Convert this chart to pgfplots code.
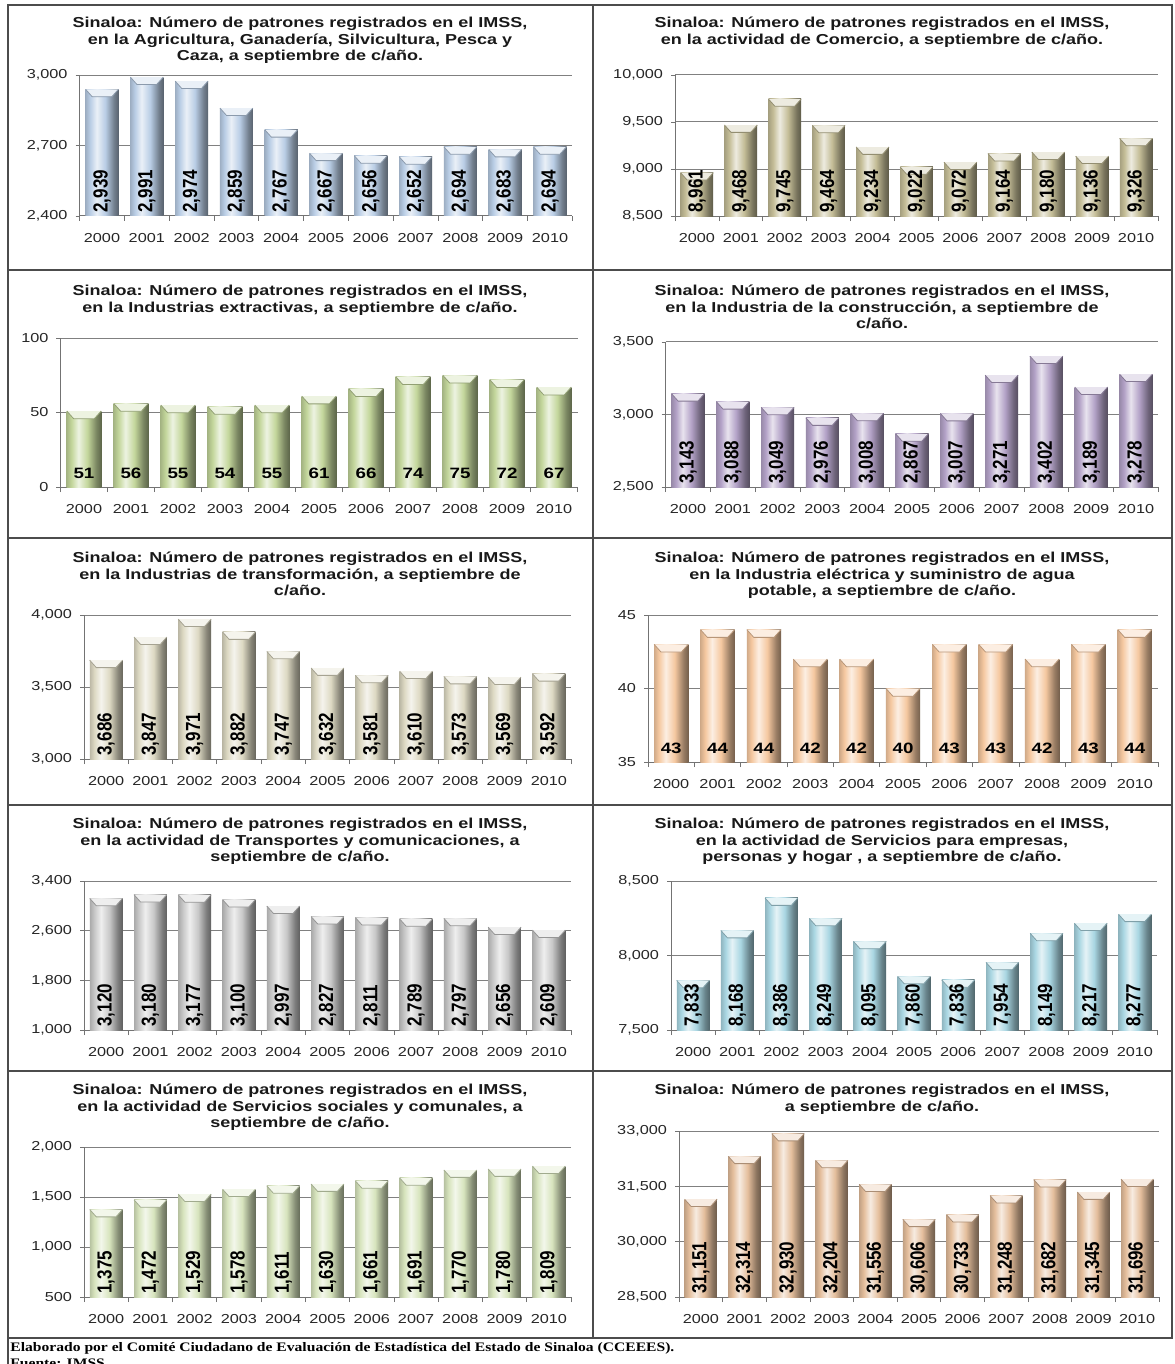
\documentclass[border=0pt]{standalone}
\usepackage{fontspec}
\setmainfont{Liberation Sans}
\newfontfamily\wide{Liberation Sans}[FakeStretch=1.25]
\newfontfamily\ftr{Liberation Serif}[FakeStretch=1.2]
\usepackage{pgfplots}
\usepackage{pgfplotstable}
\pgfplotsset{compat=1.18}
\pgfkeys{/pgf/number format/assume math mode=true}

\pgfplotstableread{
x agr com ext con tra ele trn sem soc tot
0 2939 8961 51 3143 3686 43 3120 7833 1375 31151
1 2991 9468 56 3088 3847 44 3180 8168 1472 32314
2 2974 9745 55 3049 3971 44 3177 8386 1529 32930
3 2859 9464 54 2976 3882 42 3100 8249 1578 32204
4 2767 9234 55 3008 3747 42 2997 8095 1611 31556
5 2667 9022 61 2867 3632 40 2827 7860 1630 30606
6 2656 9072 66 3007 3581 43 2811 7836 1661 30733
7 2652 9164 74 3271 3610 43 2789 7954 1691 31248
8 2694 9180 75 3402 3573 42 2797 8149 1770 31682
9 2683 9136 72 3189 3569 43 2656 8217 1780 31345
10 2694 9326 67 3278 3592 44 2609 8277 1809 31696
}\data

\definecolor{cAgr}{HTML}{B9CDE5}
\definecolor{cCom}{HTML}{C4BD97}
\definecolor{cExt}{HTML}{C3D69B}
\definecolor{cCon}{HTML}{B3A2C7}
\definecolor{cTra}{HTML}{DDD9C3}
\definecolor{cEle}{HTML}{F5C8A0}
\definecolor{cTrn}{HTML}{C8C8C8}
\definecolor{cSem}{HTML}{A9D6E2}
\definecolor{cSoc}{HTML}{D7E4BD}
\definecolor{cTot}{HTML}{E4BE9C}

\colorlet{bA}{cAgr}\colorlet{bB}{cAgr}\colorlet{bC}{cAgr}\colorlet{bD}{cAgr}\colorlet{bE}{cAgr}\colorlet{bF}{cAgr}
\pgfdeclarehorizontalshading[bA,bB,bC,bD,bE]{cyl}{100bp}{
 color(0bp)=(bA); color(25bp)=(bA); color(32bp)=(bB); color(42bp)=(bC);
 color(55bp)=(bB); color(68bp)=(bD); color(75bp)=(bE); color(100bp)=(bE)}
\newcommand\setbar[1]{%
 \colorlet{bA}{#1!85!black}\colorlet{bB}{#1}\colorlet{bC}{#1!30!white}%
 \colorlet{bD}{#1!62!black}\colorlet{bE}{#1!48!black}\colorlet{bF}{#1!75!black}}
\newcommand\barsfor[1]{\pgfplotsinvokeforeach{0,...,10}{%
 \addplot[bars] table[x=x,y=#1,restrict x to domain=##1:##1]{\data};}%
 \addplot[only marks, mark=bevel] table[x=x,y=#1]{\data};}

\pgfdeclareplotmark{bevel}{%
 \pgfpathmoveto{\pgfpoint{-\pgfplotmarksize}{0pt}}%
 \pgfpathlineto{\pgfpoint{\pgfplotmarksize}{0pt}}%
 \pgfpathlineto{\pgfpoint{0.6\pgfplotmarksize}{-0.45\pgfplotmarksize}}%
 \pgfpathlineto{\pgfpoint{-0.6\pgfplotmarksize}{-0.45\pgfplotmarksize}}%
 \pgfpathclose
 \pgfsetfillcolor{bC}\pgfusepath{fill}%
 \pgfpathmoveto{\pgfpoint{-\pgfplotmarksize}{0pt}}%
 \pgfpathlineto{\pgfpoint{-0.6\pgfplotmarksize}{-0.45\pgfplotmarksize}}%
 \pgfpathlineto{\pgfpoint{0.6\pgfplotmarksize}{-0.45\pgfplotmarksize}}%
 \pgfpathlineto{\pgfpoint{\pgfplotmarksize}{0pt}}%
 \pgfsetstrokecolor{bF}\pgfsetlinewidth{0.4pt}\pgfusepath{stroke}}

\pgfplotsset{
 panel/.style={
  scale only axis, anchor=south west, clip=false,
  xmin=-0.5, xmax=10.5,
  xtick={0,...,10},
  xticklabels={2000,2001,2002,2003,2004,2005,2006,2007,2008,2009,2010},
  minor xtick={-0.5,0.5,...,10.5},
  axis x line*=bottom, axis y line*=left,
  axis line style={black!55, line width=0.5pt},
  major x tick style={draw=none},
  minor x tick style={draw=black!55, line width=0.4pt},
  y tick style={draw=black!55, line width=0.4pt},
  tick align=outside, major tick length=2pt, minor tick length=2.5pt,
  ymajorgrids, major grid style={black!50, line width=0.5pt},
  ticklabel style={font=\wide\fontsize{6.5}{7}\selectfont, text=black!85},
  scaled y ticks=false,
  /pgf/number format/1000 sep={,},
  xticklabel style={yshift=-3pt},
  yticklabel style={xshift=-0.5pt},
  mark size=8.2pt,
 },
 bars/.style={ybar, bar width=0.74, bar shift=0pt, draw=none, shade, shading=cyl},
 vlab/.style={draw=none, mark=none, point meta=explicit,
   nodes near coords={\scalebox{1}[1.2]{\pgfmathprintnumber[fixed,precision=0,1000 sep={,}]{\pgfplotspointmeta}}},
   every node near coord/.append style={rotate=90, anchor=west, inner sep=1.5pt, font=\bfseries\fontsize{8.5}{9}\selectfont, text=black}},
 hlab/.style={draw=none, mark=none, point meta=explicit,
   nodes near coords={\pgfmathprintnumber[fixed,precision=0]{\pgfplotspointmeta}},
   every node near coord/.append style={anchor=south, inner sep=1pt, yshift=3pt, font=\wide\bfseries\fontsize{7.5}{8}\selectfont, text=black}},
}
\tikzset{ttl/.style={align=center, anchor=north, inner sep=0pt, font=\wide\bfseries\fontsize{7.2}{8.25}\selectfont, text=black!90},
 frm/.style={draw=black!70, line width=0.6pt}}

\begin{document}
\begin{tikzpicture}
\begin{scope}[x=0.5pt,y=-0.5pt]
\path[use as bounding box] (0,0) rectangle (1174,1364);
\fill[white] (0,0) rectangle (1174,1364);
\draw[frm] (8,5) rectangle (1172,1338);
\draw[frm] (593,5) -- (593,1338);
\foreach \yy in {270,538,805,1071} \draw[frm] (8,\yy) -- (1172,\yy);
\draw[frm] (8,1338) -- (8,1370);
\node[ttl] at (300,17) {Sinaloa: Número de patrones registrados en el IMSS,\\en la Agricultura, Ganadería, Silvicultura, Pesca y\\Caza, a septiembre de c/año.};
\node[ttl] at (882,17) {Sinaloa: Número de patrones registrados en el IMSS,\\en la actividad de Comercio, a septiembre de c/año.};
\node[ttl] at (300,285) {Sinaloa: Número de patrones registrados en el IMSS,\\en la Industrias extractivas, a septiembre de c/año.};
\node[ttl] at (882,285) {Sinaloa: Número de patrones registrados en el IMSS,\\en la Industria de la construcción, a septiembre de\\c/año.};
\node[ttl] at (300,552) {Sinaloa: Número de patrones registrados en el IMSS,\\en la Industrias de transformación, a septiembre de\\c/año.};
\node[ttl] at (882,552) {Sinaloa: Número de patrones registrados en el IMSS,\\en la Industria eléctrica y suministro de agua\\potable, a septiembre de c/año.};
\node[ttl] at (300,818) {Sinaloa: Número de patrones registrados en el IMSS,\\en la actividad de Transportes y comunicaciones, a\\septiembre de c/año.};
\node[ttl] at (882,818) {Sinaloa: Número de patrones registrados en el IMSS,\\en la actividad de Servicios para empresas,\\personas y hogar , a septiembre de c/año.};
\node[ttl] at (300,1084) {Sinaloa: Número de patrones registrados en el IMSS,\\en la actividad de Servicios sociales y comunales, a\\septiembre de c/año.};
\node[ttl] at (882,1084) {Sinaloa: Número de patrones registrados en el IMSS,\\a septiembre de c/año.};
\node[anchor=base west, inner sep=0pt, font=\ftr\bfseries\fontsize{6.5}{7}\selectfont] at (10,1351) {Elaborado por el Comité Ciudadano de Evaluación de Estadística del Estado de Sinaloa (CCEEES).};
\node[anchor=base west, inner sep=0pt, font=\ftr\bfseries\fontsize{6.5}{7}\selectfont] at (10,1367) {Fuente: IMSS};
\end{scope}

\setbar{cAgr}
\begin{axis}[panel, at={(39.8pt,-108pt)}, width=246.4pt, height=70.5pt, ymin=2400, ymax=3000, ytick={2400,2700,3000}]
\barsfor{agr}
\addplot[vlab] table[x=x,y expr=2400,meta=agr]{\data};
\end{axis}

\setbar{cCom}
\begin{axis}[panel, at={(337.5pt,-108pt)}, width=241.5pt, height=70.5pt, ymin=8500, ymax=10000, ytick={8500,9000,9500,10000}]
\barsfor{com}
\addplot[vlab] table[x=x,y expr=8500,meta=com]{\data};
\end{axis}

\setbar{cExt}
\begin{axis}[panel, at={(30.25pt,-243.5pt)}, width=258.5pt, height=74.5pt, ymin=0, ymax=100, ytick={0,50,100}, mark size=8.6pt]
\barsfor{ext}
\addplot[hlab] table[x=x,y expr=0,meta=ext]{\data};
\end{axis}

\setbar{cCon}
\begin{axis}[panel, at={(332.8pt,-243.5pt)}, width=246.4pt, height=72.5pt, ymin=2500, ymax=3500, ytick={2500,3000,3500}]
\barsfor{con}
\addplot[vlab] table[x=x,y expr=2500,meta=con]{\data};
\end{axis}

\setbar{cTra}
\begin{axis}[panel, at={(42pt,-379.5pt)}, width=243.5pt, height=72pt, ymin=3000, ymax=4000, ytick={3000,3500,4000}]
\barsfor{tra}
\addplot[vlab] table[x=x,y expr=3000,meta=tra]{\data};
\end{axis}

\setbar{cEle}
\begin{axis}[panel, at={(324pt,-381pt)}, width=255pt, height=73.5pt, ymin=35, ymax=45, ytick={35,40,45}, mark size=8.5pt]
\barsfor{ele}
\addplot[hlab] table[x=x,y expr=35,meta=ele]{\data};
\end{axis}

\setbar{cTrn}
\begin{axis}[panel, at={(42pt,-515pt)}, width=243.5pt, height=74.5pt, ymin=1000, ymax=3400, ytick={1000,1800,2600,3400}]
\barsfor{trn}
\addplot[vlab] table[x=x,y expr=1000,meta=trn]{\data};
\end{axis}

\setbar{cSem}
\begin{axis}[panel, at={(335.5pt,-515pt)}, width=243pt, height=74.5pt, ymin=7500, ymax=8500, ytick={7500,8000,8500}]
\barsfor{sem}
\addplot[vlab] table[x=x,y expr=7500,meta=sem]{\data};
\end{axis}

\setbar{cSoc}
\begin{axis}[panel, at={(42pt,-648.5pt)}, width=243.5pt, height=75pt, ymin=500, ymax=2000, ytick={500,1000,1500,2000}]
\barsfor{soc}
\addplot[vlab] table[x=x,y expr=500,meta=soc]{\data};
\end{axis}

\setbar{cTot}
\begin{axis}[panel, at={(339.5pt,-648.5pt)}, width=240pt, height=83pt, ymin=28500, ymax=33000, ytick={28500,30000,31500,33000}, mark size=8.1pt]
\barsfor{tot}
\addplot[vlab] table[x=x,y expr=28500,meta=tot]{\data};
\end{axis}
\end{tikzpicture}
\end{document}
